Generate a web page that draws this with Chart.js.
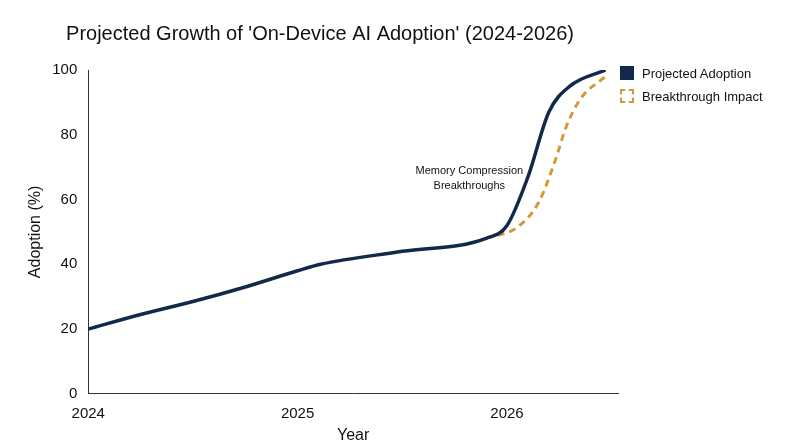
<!DOCTYPE html>
<html><head><meta charset="utf-8">
<script src="https://cdn.jsdelivr.net/npm/chart.js@4/dist/chart.umd.min.js"></script>
<style>html,body{margin:0;background:#fff}#w{width:800px;height:447px;position:relative}
#lg{position:absolute;left:620px;top:62px;font:13px "Helvetica Neue",Arial,"Liberation Sans",sans-serif;color:#111}
#lg div{display:flex;align-items:center;height:22px;margin-bottom:1px}
#lg span.b{display:inline-block;width:14px;height:14px;margin-right:8px;box-sizing:border-box}
</style>
</head><body><div id="w"><canvas id="c"></canvas>
<div id="lg"><div><span class="b" style="background:#13294b"></span>Projected Adoption</div>
<div><span class="b" style="border:2px dashed #d49a3a"></span>Breakthrough Impact</div></div></div>
<script>
const adoptionX = [2024, 2024.25, 2024.5, 2024.75, 2025, 2025.11, 2025.5, 2025.9, 2026, 2026.1, 2026.2, 2026.3, 2026.47];
const adoptionY = [20, 24.5, 28.5, 33, 38, 40, 44, 48, 52, 67, 87, 95, 100];
const impactX = [2025.9, 2026.05, 2026.15, 2026.23, 2026.28, 2026.35, 2026.47];
const impactY = [48, 51.5, 59, 72, 82, 91, 98];
const yearTicks = [2024, 2025, 2026];
const annotationLines = ['Memory Compression', 'Breakthroughs'];
const annotationAt = [2025.82, 68];

const toPts = (xs, ys) => xs.map((x, i) => ({x, y: ys[i]}));
const annot = {
  id: 'annot',
  afterDatasetsDraw(ch) {
    const c = ch.ctx, xs = ch.scales.x, ys = ch.scales.y;
    c.save(); c.font = '11px "Helvetica Neue", Arial, "Liberation Sans"'; c.fillStyle = '#111';
    c.textAlign = 'center';
    annotationLines.forEach((t, i) => c.fillText(t, xs.getPixelForValue(annotationAt[0]), ys.getPixelForValue(annotationAt[1]) + i * 15));
    c.restore();
  }
};
new Chart(document.getElementById('c'), {
  type: 'line',
  data: { datasets: [
    { label: 'Projected Adoption', data: toPts(adoptionX, adoptionY), borderColor: '#13294b', backgroundColor: '#13294b', borderWidth: 3.5, pointRadius: 0, cubicInterpolationMode: 'monotone' },
    { label: 'Breakthrough Impact', data: toPts(impactX, impactY), borderColor: '#d49a3a', backgroundColor: '#fff', borderWidth: 3, borderDash: [7, 5], pointRadius: 0, cubicInterpolationMode: 'monotone' }
  ]},
  options: {
    responsive: true, maintainAspectRatio: false, animation: false,
    layout: { padding: { left: 22, right: 182, top: 10, bottom: 2 } },
    plugins: {
      title: { display: true, text: "Projected Growth of 'On-Device AI Adoption' (2024-2026)", color: '#111', font: { size: 20, weight: 'normal', family: '"Helvetica Neue", Arial, "Liberation Sans"' }, padding: { top: 12, bottom: 24 } },
      legend: { display: false },
      tooltip: { enabled: false }
    },
    scales: {
      x: { type: 'linear', min: 2024, max: 2026.53, grid: { display: false }, border: { color: '#333' },
        afterBuildTicks: ax => { ax.ticks = yearTicks.map(v => ({value: v})); },
        ticks: { color: '#111', font: { size: 15 }, callback: v => String(v) },
        title: { display: true, text: 'Year', color: '#111', font: { size: 16 }, padding: 0 } },
      y: { min: 0, max: 100, grid: { display: false }, border: { color: '#333' },
        ticks: { stepSize: 20, color: '#111', font: { size: 15 } },
        title: { display: true, text: 'Adoption (%)', color: '#111', font: { size: 16 } } }
    }
  },
  plugins: [annot]
});
</script></body></html>
